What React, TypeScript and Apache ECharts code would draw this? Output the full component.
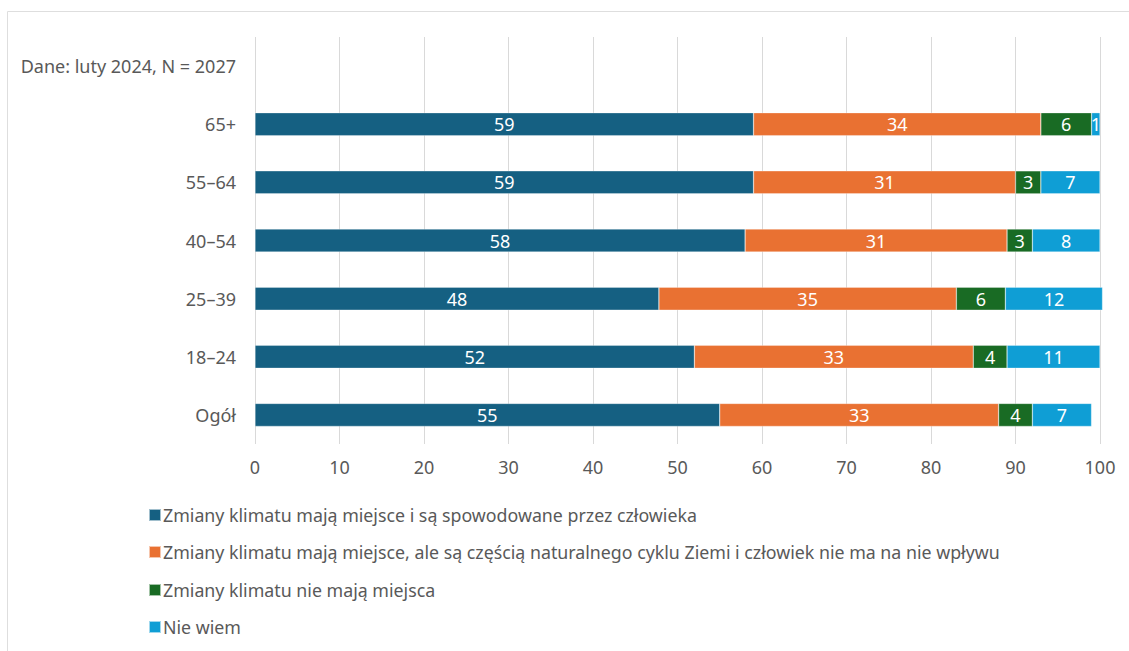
import React, { useEffect, useRef } from "react";
import * as echarts from "echarts";

const categories = ["Ogół", "18–24", "25–39", "40–54", "55–64", "65+", "Dane: luty 2024, N = 2027"];
const seriesNames = [
  "Zmiany klimatu mają miejsce i są spowodowane przez człowieka",
  "Zmiany klimatu mają miejsce, ale są częścią naturalnego cyklu Ziemi i człowiek nie ma na nie wpływu",
  "Zmiany klimatu nie mają miejsca",
  "Nie wiem",
];
const human = [55, 52, 47.8, 58, 59, 59, null];
const natural = [33, 33, 35.2, 31, 31, 34, null];
const none = [4, 4, 5.8, 3, 3, 6, null];
const dontKnow = [7, 11, 11.5, 8, 7, 1, null];
const xTicks = [0, 10, 20, 30, 40, 50, 60, 70, 80, 90, 100];

const colors = ["#156082", "#E97132", "#196B24", "#0F9ED5"];
const FONT = "Noto Sans";
const FS = 18;

export default function App() {
  const ref = useRef<HTMLDivElement>(null);
  useEffect(() => {
    if (!ref.current) return;
    const chart = echarts.init(ref.current, undefined, { renderer: "svg" });
    const values = [human, natural, none, dontKnow];
    const legendTops = [501, 538, 576, 613];
    chart.setOption({
      animation: false,
      textStyle: { fontFamily: FONT },
      graphic: [
        {
          type: "rect",
          shape: { x: 7.5, y: 11.5, width: 1200, height: 700 },
          style: { fill: "none", stroke: "#dedede", lineWidth: 1 },
          silent: true,
        },
      ],
      grid: { left: 255, right: 29, top: 37, bottom: 207, containLabel: false },
      xAxis: {
        type: "value",
        min: xTicks[0],
        max: xTicks[xTicks.length - 1],
        interval: 10,
        axisLine: { show: false },
        axisTick: { show: false },
        splitLine: { show: true, lineStyle: { color: "#d9d9d9", width: 1 } },
        axisLabel: { color: "#595959", fontSize: FS, fontFamily: FONT, margin: 14 },
      },
      yAxis: {
        type: "category",
        data: categories,
        axisLine: { show: false },
        axisTick: { show: false },
        axisLabel: { color: "#595959", fontSize: FS, fontFamily: FONT, margin: 19 },
      },
      legend: seriesNames.map((n, i) => ({
        data: [n],
        orient: "vertical",
        left: 143,
        top: legendTops[i],
        icon: "rect",
        itemWidth: 12,
        itemHeight: 12,
        itemGap: 4,
        textStyle: { color: "#595959", fontSize: 17.8, fontFamily: FONT, padding: [0, 0, 0, -3] },
        selectedMode: false,
      })),
      series: seriesNames.map((n, i) => ({
        name: n,
        type: "bar",
        stack: "total",
        barWidth: 23,
        clip: false,
        data: values[i],
        itemStyle: { color: colors[i], borderColor: "rgba(255,255,255,0.6)", borderWidth: 0.5 },
        label: {
          show: true,
          position: "inside",
          color: "#ffffff",
          fontSize: FS,
          fontFamily: FONT,
          formatter: (p: any) => String(Math.round(p.value)),
        },
      })),
    });
    return () => chart.dispose();
  }, []);
  return (
    <div
      ref={ref}
      style={{ position: "fixed", left: 0, top: 0, width: 1129, height: 651, background: "#ffffff" }}
    />
  );
}
